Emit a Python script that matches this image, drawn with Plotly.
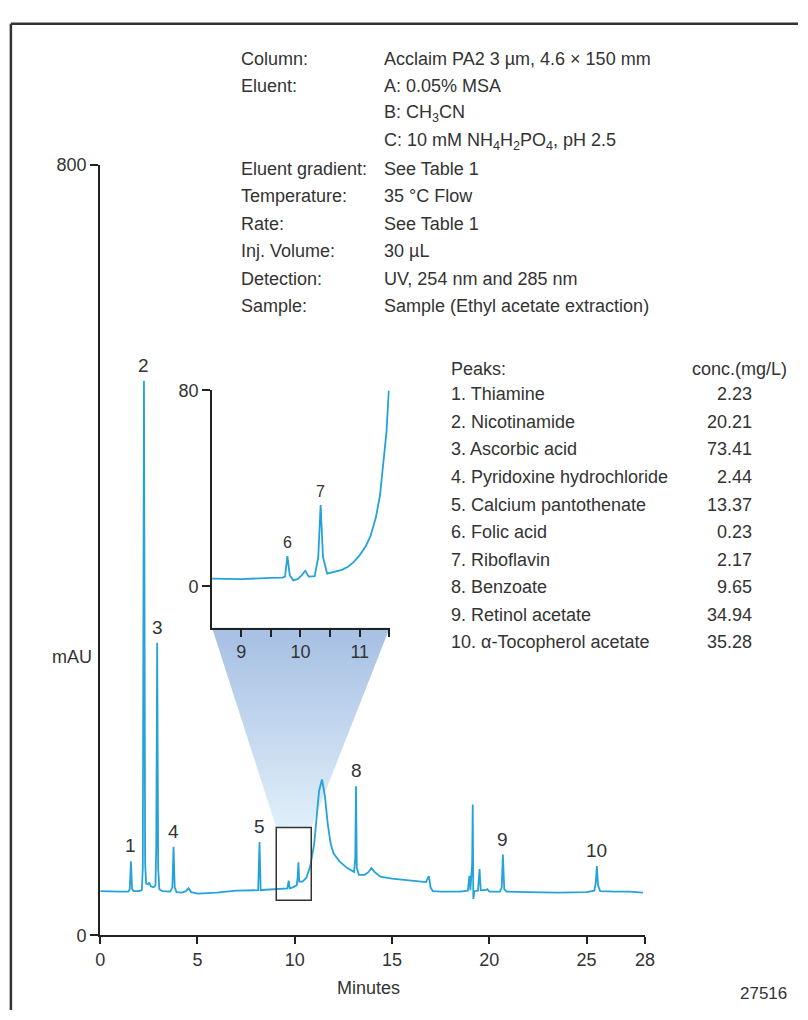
import plotly.graph_objects as go

W, H = 808, 1020
FONT = "Liberation Sans, Arial, sans-serif"
TXT = "#333333"
LINE = "#24a3db"

# ---------------- data ----------------
time_min = [0.00, 0.50, 1.00, 1.45, 1.52, 1.58, 1.64, 1.72, 2.00, 2.14, 2.19, 2.25, 2.31, 2.36,
            2.45, 2.52, 2.60, 2.75, 2.84, 2.88, 2.93, 2.98, 3.04, 3.20, 3.60, 3.71, 3.77, 3.83,
            3.92, 4.20, 4.40, 4.54, 4.68, 5.00, 6.00, 7.00, 7.80, 8.12, 8.19, 8.25, 8.50, 9.00,
            9.50, 9.62, 9.69, 9.74, 9.90, 10.10, 10.15, 10.19, 10.23, 10.40, 10.60, 10.80, 11.00,
            11.15, 11.25, 11.40, 11.55, 11.70, 11.85, 12.00, 12.30, 12.70, 13.05, 13.11, 13.15,
            13.19, 13.30, 13.60, 13.80, 13.94, 14.10, 14.40, 15.00, 16.00, 16.75, 16.85, 16.90,
            16.98, 17.10, 17.50, 18.50, 18.90, 18.98, 19.03, 19.08, 19.12, 19.15, 19.18, 19.24,
            19.42, 19.50, 19.56, 19.80, 19.90, 20.00, 20.55, 20.64, 20.70, 20.77, 20.90, 22.00,
            23.50, 25.00, 25.40, 25.47, 25.53, 25.59, 25.70, 26.50, 27.20, 27.90]
signal_mau = [46, 45.5, 45.5, 45.5, 48, 77, 48, 46, 46, 47, 70, 576, 75, 54,
              53, 55, 51, 50, 52, 90, 304, 70, 48, 46, 45.5, 50, 92, 50,
              45, 44.5, 46, 49, 45, 43.5, 44.5, 46.5, 47, 47, 97, 47, 47.5, 48,
              48.5, 49, 57, 49, 50, 52, 60, 76, 56, 56, 60, 72, 95,
              125, 150, 162, 145, 115, 95, 85, 77, 70, 66, 80, 155,
              70, 63, 63, 66, 70, 66, 61, 59, 57, 55.5, 60, 61.5,
              50, 46, 45.5, 45.5, 46.5, 62, 47, 60, 75, 136, 38, 46,
              46.5, 69, 47, 47, 48, 45.5, 45.5, 50, 84, 48, 45.5, 45,
              44.5, 45, 46.5, 54, 72, 52, 46, 45.5, 45.5, 44.5]

inset_time = [8.51, 9.00, 9.50, 9.70, 9.74, 9.78, 9.82, 9.88, 9.95, 10.02, 10.08, 10.14,
              10.24, 10.30, 10.34, 10.38, 10.45, 10.60, 10.70, 10.80, 10.90, 11.00, 11.10,
              11.18, 11.27, 11.34, 11.40, 11.45, 11.49]
inset_mau = [3.2, 3.0, 3.5, 3.6, 4.0, 12.4, 4.5, 2.5, 3.0, 4.5, 6.4, 4.0,
             4.2, 12.0, 33.2, 12.0, 5.2, 6.0, 6.8, 8.0, 10.0, 12.8, 16.4,
             20.5, 28.0, 37.0, 50.0, 63.0, 80.0]

peak_ids = ["1", "2", "3", "4", "5", "8", "9", "10"]
peak_t = [1.58, 2.25, 2.93, 3.77, 8.19, 13.15, 20.70, 25.53]
peak_top = [77, 576, 304, 92, 97, 155, 84, 72]

inset_peak_ids = ["6", "7"]
inset_peak_t = [9.78, 10.34]
inset_peak_top = [12.4, 33.2]

x_ticks = [0, 5, 10, 15, 20, 25, 28]
y_ticks = [0, 800]
inset_x_ticks = [9, 10, 11]
inset_x_minor_start = 9.5
inset_y_ticks = [0, 80]

zoom_window_t = [9.05, 10.85]
zoom_window_mau = [36.6, 112]

cond_labels = ["Column:", "Eluent:", "", "", "Eluent gradient:", "Temperature:", "Rate:",
               "Inj. Volume:", "Detection:", "Sample:"]
cond_values = ["Acclaim PA2 3 µm, 4.6 × 150 mm", "A: 0.05% MSA", "B: CH<sub>3</sub>CN",
               "C: 10 mM NH<sub>4</sub>H<sub>2</sub>PO<sub>4</sub>, pH 2.5", "See Table 1",
               "35 °C Flow", "See Table 1", "30 µL", "UV, 254 nm and 285 nm",
               "Sample (Ethyl acetate extraction)"]

peak_names = ["1. Thiamine", "2. Nicotinamide", "3. Ascorbic acid", "4. Pyridoxine hydrochloride",
              "5. Calcium pantothenate", "6. Folic acid", "7. Riboflavin", "8. Benzoate",
              "9. Retinol acetate", "10. α-Tocopherol acetate"]
peak_conc = ["2.23", "20.21", "73.41", "2.44", "13.37", "0.23", "2.17", "9.65", "34.94", "35.28"]

# ---------------- layout geometry (pixels -> paper) ----------------
def px(x):
    return x / W

def py(y):
    return 1 - y / H

main_xd = [px(97), px(652)]
main_yd = [py(944), py(158)]
ins_xd = [px(211), px(392)]
ins_yd = [py(630), py(388)]
X_RANGE = [0, 28]
Y_RANGE = [0, 800]
INS_X_RANGE = [8.51, 11.505]
INS_Y_RANGE = [-16.8, 80]


def paper_to_main(xp, yp):
    t = X_RANGE[0] + (xp - main_xd[0]) / (main_xd[1] - main_xd[0]) * (X_RANGE[1] - X_RANGE[0])
    v = Y_RANGE[0] + (yp - main_yd[0]) / (main_yd[1] - main_yd[0]) * (Y_RANGE[1] - Y_RANGE[0])
    return t, v

tl_t, top_v = paper_to_main(ins_xd[0], ins_yd[0])
tr_t, _ = paper_to_main(ins_xd[1], ins_yd[0])

fig = go.Figure()

# magnification funnel
fig.add_trace(go.Scatter(
    x=[tl_t, tr_t, zoom_window_t[1], zoom_window_t[0], tl_t],
    y=[top_v, top_v, zoom_window_mau[1], zoom_window_mau[1], top_v],
    mode="lines", line=dict(width=0), fill="toself",
    fillgradient=dict(type="vertical", colorscale=[[0, "#e4f3fb"], [1, "#a8c1e4"]],
                      start=zoom_window_mau[1], stop=top_v),
    hoverinfo="skip", showlegend=False, xaxis="x", yaxis="y"))

# main chromatogram
fig.add_trace(go.Scatter(x=time_min, y=signal_mau, mode="lines",
                         line=dict(color=LINE, width=1.8), showlegend=False,
                         xaxis="x", yaxis="y"))

# inset chromatogram
fig.add_trace(go.Scatter(x=inset_time, y=inset_mau, mode="lines",
                         line=dict(color=LINE, width=1.8, shape="linear"), showlegend=False,
                         xaxis="x2", yaxis="y2"))

FS = 18
tickfont = dict(family=FONT, size=FS, color=TXT)
axis_common = dict(showline=True, linecolor="#222222", linewidth=2, ticks="outside",
                   tickcolor="#222222", tickwidth=2, showgrid=False, zeroline=False,
                   tickfont=tickfont, fixedrange=True)

fig.update_layout(
    width=W, height=H, margin=dict(l=0, r=0, t=0, b=0),
    paper_bgcolor="white", plot_bgcolor="rgba(0,0,0,0)",
    xaxis=dict(domain=main_xd, range=X_RANGE, tickvals=x_ticks, ticklen=7, anchor="y",
               **axis_common),
    yaxis=dict(domain=main_yd, range=Y_RANGE, tickvals=y_ticks, ticklen=8, anchor="x",
               **axis_common),
    xaxis2=dict(domain=ins_xd, range=INS_X_RANGE, tickvals=inset_x_ticks, ticklen=7,
                anchor="y2",
                minor=dict(tick0=inset_x_minor_start, dtick=1, ticks="outside", ticklen=7,
                           tickwidth=2, tickcolor="#222222", showgrid=False),
                **axis_common),
    yaxis2=dict(domain=ins_yd, range=INS_Y_RANGE, tickvals=inset_y_ticks, ticklen=8,
                anchor="x2", **axis_common),
    showlegend=False,
)

# zoom window rectangle
fig.add_shape(type="rect", xref="x", yref="y", x0=zoom_window_t[0], x1=zoom_window_t[1],
              y0=zoom_window_mau[0], y1=zoom_window_mau[1],
              line=dict(color="#333333", width=1.5))

# page frame (top and left edges)
fig.add_shape(type="line", xref="paper", yref="paper", x0=px(6), x1=1.0, y0=py(14), y1=py(14),
              line=dict(color="#333333", width=2.5))
fig.add_shape(type="line", xref="paper", yref="paper", x0=px(6), x1=px(6), y0=py(14), y1=0,
              line=dict(color="#333333", width=2.5))

ann = []
lbl_font = dict(family=FONT, size=FS, color=TXT)
for pid, t, v in zip(peak_ids, peak_t, peak_top):
    ann.append(dict(x=t, y=v, xref="x", yref="y", text=pid, showarrow=False,
                    yanchor="bottom", yshift=3, font=dict(family=FONT, size=19, color=TXT)))
for pid, t, v in zip(inset_peak_ids, inset_peak_t, inset_peak_top):
    ann.append(dict(x=t, y=v, xref="x2", yref="y2", text=pid, showarrow=False,
                    yanchor="bottom", yshift=3, font=dict(family=FONT, size=16, color=TXT)))

for i, (lab, val) in enumerate(zip(cond_labels, cond_values)):
    yy = py(50 + 28 * i)
    if lab:
        ann.append(dict(x=px(238), y=yy, xref="paper", yref="paper", text=lab, showarrow=False,
                        xanchor="left", yanchor="middle", font=lbl_font))
    ann.append(dict(x=px(384), y=yy, xref="paper", yref="paper", text=val, showarrow=False,
                    xanchor="left", yanchor="middle", font=lbl_font))

ann.append(dict(x=px(452), y=py(366), xref="paper", yref="paper", text="Peaks:",
                showarrow=False, xanchor="left", yanchor="middle", font=lbl_font))
ann.append(dict(x=px(799), y=py(366), xref="paper", yref="paper", text="conc.(mg/L)",
                showarrow=False, xanchor="right", yanchor="middle", font=lbl_font))
for i, (nm, c) in enumerate(zip(peak_names, peak_conc)):
    yy = py(392 + 28.1 * i)
    ann.append(dict(x=px(452), y=yy, xref="paper", yref="paper", text=nm, showarrow=False,
                    xanchor="left", yanchor="middle", font=lbl_font))
    ann.append(dict(x=px(763), y=yy, xref="paper", yref="paper", text=c, showarrow=False,
                    xanchor="right", yanchor="middle", font=lbl_font))

ann.append(dict(x=px(68), y=py(660), xref="paper", yref="paper", text="mAU", showarrow=False,
                xanchor="center", yanchor="middle", font=lbl_font))
ann.append(dict(x=px(370), y=py(998), xref="paper", yref="paper", text="Minutes",
                showarrow=False, xanchor="center", yanchor="middle", font=lbl_font))
ann.append(dict(x=px(773), y=py(1003), xref="paper", yref="paper", text="27516",
                showarrow=False, xanchor="center", yanchor="middle",
                font=dict(family=FONT, size=17, color=TXT)))

fig.update_layout(annotations=ann)
fig.write_html("out.html")
